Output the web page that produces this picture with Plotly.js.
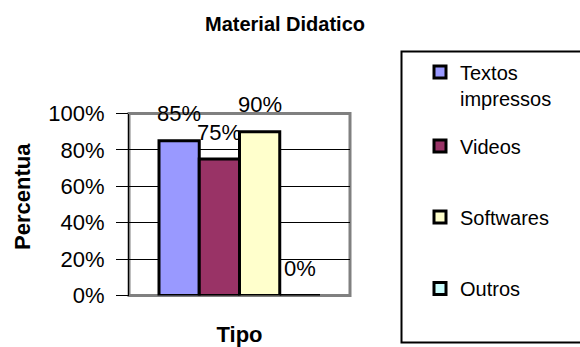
<!DOCTYPE html>
<html>
<head>
<meta charset="utf-8">
<script src="https://cdn.plot.ly/plotly-3.0.1.min.js"></script>
<style>html,body{margin:0;padding:0;background:#fff;}#chart{width:580px;height:347px;}</style>
</head>
<body>
<div id="chart"></div>
<script>
// ---- data ----
const categories = ['Material Didatico'];
const seriesNames = ['Textos<br>impressos', 'Videos', 'Softwares', 'Outros'];
const seriesValues = [0.85, 0.75, 0.90, 0.00];
const yTickVals = [0, 0.2, 0.4, 0.6, 0.8, 1.0];
const yTickText = ['0%', '20%', '40%', '60%', '80%', '100%'];
const chartTitle = 'Material Didatico';
const xTitle = 'Tipo';
const yTitle = 'Percentua';

// ---- styles ----
const seriesColors = ['#9999FF', '#993366', '#FFFFCC', '#CCFFFF'];
const FONT = 'Arial, "Liberation Sans", sans-serif';
const W = 580, H = 347;
const plotL = 129, plotR = 350, plotT = 113.5, plotB = 295.5;
const bargap = 0.2715;
const legendCentersPx = [75.5, 149.5, 220.5, 292];
const legendLeftPx = 420;

const legendIds = ['legend', 'legend2', 'legend3', 'legend4'];
const traces = seriesNames.map((name, i) => ({
  type: 'bar',
  name: name,
  x: categories,
  y: [seriesValues[i]],
  legend: legendIds[i],
  marker: {color: seriesColors[i], line: {color: '#000', width: 3}},
  hoverinfo: 'none'
}));

const barUnit = (1 - bargap) / seriesNames.length;
const annotations = seriesValues.map((v, i) => ({
  x: (i - (seriesNames.length - 1) / 2) * barUnit,
  y: v,
  xref: 'x', yref: 'y',
  text: Math.round(v * 100) + '%',
  showarrow: false,
  yshift: 27,
  xanchor: 'center', yanchor: 'middle',
  font: {family: FONT, size: 22, color: '#000'}
}));
annotations.push({
  xref: 'paper', yref: 'paper',
  x: 22 / W, y: 1 - 197 / H,
  text: yTitle, textangle: -90, showarrow: false,
  xanchor: 'center', yanchor: 'middle',
  font: {family: FONT, size: 22, weight: 'bold', color: '#000'}
});

const layout = {
  width: W, height: H,
  margin: {l: 0, r: 0, t: 0, b: 0, pad: 0},
  paper_bgcolor: '#fff', plot_bgcolor: '#fff',
  font: {family: FONT, color: '#000'},
  title: {
    text: chartTitle,
    x: 285 / W, xanchor: 'center', xref: 'paper',
    y: 1 - 24 / H, yanchor: 'middle', yref: 'container',
    font: {family: FONT, size: 20, weight: 'bold', color: '#000'}
  },
  barmode: 'group', bargap: bargap, bargroupgap: 0,
  xaxis: {
    domain: [plotL / W, plotR / W],
    type: 'category', range: [-0.5, 0.5],
    showticklabels: false, ticks: '', showgrid: false, zeroline: false, showline: false,
    fixedrange: true,
    title: {text: xTitle, font: {family: FONT, size: 22, weight: 'bold', color: '#000'}}
  },
  yaxis: {
    domain: [1 - plotB / H, 1 - plotT / H],
    range: [0, 1],
    tickvals: yTickVals, ticktext: yTickText,
    ticks: 'outside', ticklen: 12, tickcolor: '#000', tickwidth: 1,
    ticklabelstandoff: 7,
    tickfont: {family: FONT, size: 22, color: '#000'},
    showgrid: true, gridcolor: '#000', gridwidth: 1,
    showline: true, linecolor: '#000', linewidth: 1,
    zeroline: false, fixedrange: true
  },
  shapes: [
    {type: 'rect', xref: 'x domain', yref: 'y domain', x0: 0, x1: 1, y0: 0, y1: 1,
     line: {color: '#808080', width: 3}, fillcolor: 'rgba(0,0,0,0)', layer: 'below'},
    {type: 'rect', xref: 'paper', yref: 'paper', x0: 401.5 / W, x1: 1.02, y0: 1 - 342.5 / H, y1: 1 - 51.5 / H,
     line: {color: '#000', width: 2}, fillcolor: 'rgba(0,0,0,0)'}
  ],
  annotations: annotations,
  showlegend: true
};

legendIds.forEach((id, i) => {
  layout[id] = {
    x: legendLeftPx / W, xanchor: 'left',
    y: 1 - (legendCentersPx[i] - 23) / H, yanchor: 'top',
    bgcolor: 'rgba(0,0,0,0)', borderwidth: 0,
    valign: 'top',
    font: {family: FONT, size: 20, color: '#000'}
  };
});

Plotly.newPlot('chart', traces, layout, {staticPlot: true, displayModeBar: false});
</script>
</body>
</html>
